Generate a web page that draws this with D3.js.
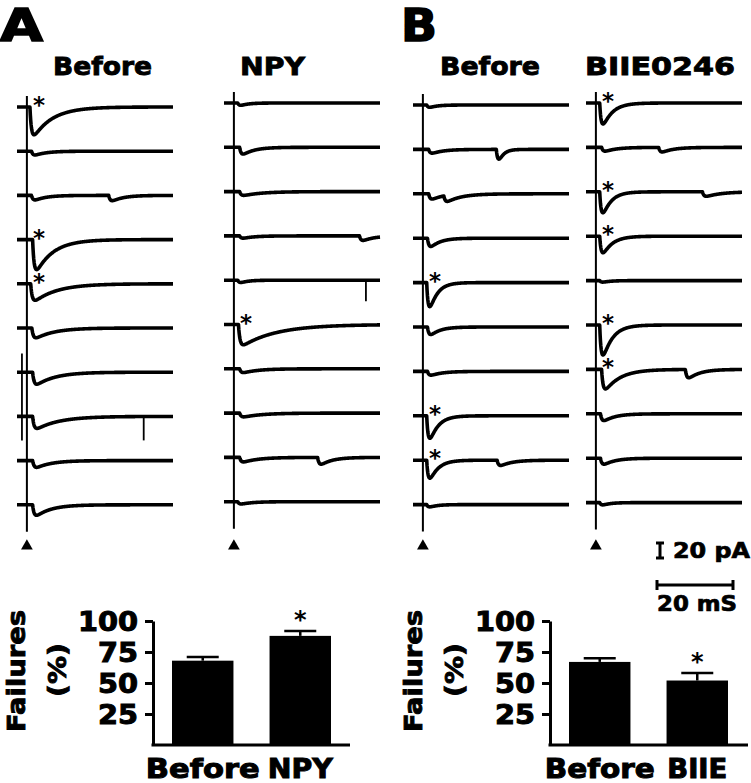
<!DOCTYPE html>
<html><head><meta charset="utf-8">
<script src="https://cdn.jsdelivr.net/npm/d3@7"></script>
<style>body{margin:0;background:#fff}</style>
</head><body>
<svg id="c" width="751" height="783"></svg>
<script>
// ---------------- DATA ----------------
const panelLetters = ["A", "B"];
const columnTitles = ["Before", "NPY", "Before", "BIIE0246"];
// synaptic events per trace: [onset latency ms, amplitude pA (inward), decay ms]
const tracesBeforeA = [
  [[0.8, 37, 5]], [[1.2, 5, 3]], [[1.2, 6, 3], [21.5, 7, 3]], [[1.5, 40, 4.5]], [[1.0, 22, 6]],
  [[1.3, 13, 5]], [[1.5, 16, 5]], [[1.5, 16, 6]], [[1.5, 9, 4]], [[1.5, 14, 4]]
];
const tracesNPY = [
  [[1.0, 3, 2]], [[1.5, 9, 3]], [[1.5, 5, 5]], [[1.5, 3, 3], [33, 6, 3]], [[1.0, 3, 2]],
  [[1.2, 27, 9]], [[1.5, 5, 4]], [[1.5, 5, 5]], [[1.5, 6, 4], [22, 9, 3]], [[1.0, 3, 3]]
];
const tracesBeforeB = [
  [[1.0, 3, 2]], [[1.5, 5, 3], [19.3, 13, 1.2]], [[1.5, 7, 3], [5.5, 8, 4]], [[1.2, 11, 2.5]], [[1.0, 32, 2]],
  [[1.2, 10, 2.5]], [[1.2, 5, 3]], [[1.0, 30, 2.2]], [[1.0, 24, 2.2], [19.5, 7, 3]], [[1.0, 3, 2]]
];
const tracesBIIE = [
  [[1.0, 28, 2.5]], [[1.5, 5, 3], [16.5, 6, 3]], [[1.0, 28, 2.2], [28, 6, 4]], [[1.0, 22, 2.5]], [[1.0, 2, 2]],
  [[1.0, 40, 2.5]], [[1.5, 26, 4], [23.5, 11, 3]], [[1.2, 9, 3]], [[1.2, 8, 3]], [[1.0, 3, 2]]
];
// traces marked with an asterisk (evoked response)
const asteriskBeforeA = [1, 0, 0, 1, 1, 0, 0, 0, 0, 0];
const asteriskNPY     = [0, 0, 0, 0, 0, 1, 0, 0, 0, 0];
const asteriskBeforeB = [0, 0, 0, 0, 1, 0, 0, 1, 1, 0];
const asteriskBIIE    = [1, 0, 1, 1, 0, 1, 1, 0, 0, 0];
// fast spikes: [trace index, time ms, amplitude pA downward]
const spikesBeforeA = [[7, 30.7, 32]];
const spikesNPY = [[4, 34.7, 28]];
const spikesBeforeB = [];
const spikesBIIE = [];
// stimulus artifacts spanning traces: [time ms, from trace, pA above, to trace, pA below]
const artifactsBeforeA = [[-1.3, 6, 25, 7, 32]];
// bar charts: failures (%)
const barCatsA = ["Before", "NPY"];
const barValsA = [68, 88];
const barErrA = [3, 4];
const barSigA = [false, true];
const barCatsB = ["Before", "BIIE"];
const barValsB = [67, 52];
const barErrB = [3, 6];
const barSigB = [false, true];
const barTicks = [25, 50, 75, 100];
const scaleBarPA = 20;
const scaleBarMS = 20;

// ---------------- DRAWING ----------------
const svg = d3.select("#c");
const FONT = "'DejaVu Sans', 'Liberation Sans', sans-serif";

function heavyText(g, txt, x, y, size, width, anchor, rot) {
  const t = g.append("text")
    .attr("x", x).attr("y", y)
    .attr("font-family", FONT).attr("font-weight", "bold")
    .attr("font-size", size)
    .attr("text-anchor", anchor || "start")
    .attr("fill", "#000").attr("stroke", "#000").attr("stroke-width", size * 0.035)
    .text(txt);
  if (width) t.attr("textLength", width).attr("lengthAdjust", "spacingAndGlyphs");
  if (rot) t.attr("transform", `rotate(${rot},${x},${y})`);
  return t;
}

// panel letters and titles
heavyText(svg, panelLetters[0], 0, 41, 44, 43);
heavyText(svg, panelLetters[1], 401, 41, 44, 36);
const titleBoxes = [[53, 99], [240, 65], [440, 100], [585, 150]];
columnTitles.forEach((t, i) => heavyText(svg, t, titleBoxes[i][0], 75, 25, titleBoxes[i][1]));

// trace columns
const timeDomain = [-2.6, 38.4];
const yI = d3.scaleLinear().domain([0, 20]).range([0, 15]);
const columns = [
  { stim: 27, y0: 107, dy: 44.2, traces: tracesBeforeA, marks: asteriskBeforeA, spikes: spikesBeforeA, arts: artifactsBeforeA },
  { stim: 234, y0: 103, dy: 44.3, traces: tracesNPY, marks: asteriskNPY, spikes: spikesNPY, arts: [] },
  { stim: 423, y0: 105, dy: 44.4, traces: tracesBeforeB, marks: asteriskBeforeB, spikes: spikesBeforeB, arts: [] },
  { stim: 596, y0: 103, dy: 44.4, traces: tracesBIIE, marks: asteriskBIIE, spikes: spikesBIIE, arts: [] }
];

function kernel(s, td) {
  if (s <= 0) return 0;
  const tr = 0.4;
  const tp = (tr * td / (td - tr)) * Math.log(td / tr);
  const pk = Math.exp(-tp / td) - Math.exp(-tp / tr);
  return (Math.exp(-s / td) - Math.exp(-s / tr)) / pk;
}
function current(t, ev) {
  return ev.reduce((s, e) => s + e[1] * kernel(t - e[0], e[2]), 0);
}
const ts = d3.range(timeDomain[0], timeDomain[1] + 1e-6, 0.1);

columns.forEach(col => {
  const x = d3.scaleLinear().domain(timeDomain).range([col.stim - 10, col.stim + 146]);
  const g = svg.append("g");
  col.traces.forEach((ev, i) => {
    const base = col.y0 + i * col.dy;
    const line = d3.line().x(t => x(t)).y(t => base + yI(current(t, ev)));
    g.append("path").attr("d", line(ts)).attr("fill", "none")
      .attr("stroke", "#000").attr("stroke-width", 3.6).attr("stroke-linejoin", "round");
    if (col.marks[i]) {
      g.append("text").attr("x", x(3.2)).attr("y", base + 6)
        .attr("font-family", FONT).attr("font-weight", "bold").attr("font-size", 23)
        .attr("text-anchor", "middle").text("*");
    }
  });
  col.spikes.forEach(s => {
    const base = col.y0 + s[0] * col.dy;
    g.append("line").attr("x1", x(s[1])).attr("x2", x(s[1]))
      .attr("y1", base).attr("y2", base + yI(s[2])).attr("stroke", "#000").attr("stroke-width", 1.8);
  });
  col.arts.forEach(a => {
    g.append("line").attr("x1", x(a[0])).attr("x2", x(a[0]))
      .attr("y1", col.y0 + a[1] * col.dy - yI(a[2]))
      .attr("y2", col.y0 + a[3] * col.dy + yI(a[4]))
      .attr("stroke", "#000").attr("stroke-width", 1.8);
  });
  g.append("line").attr("x1", x(0)).attr("x2", x(0))
    .attr("y1", col.y0 - 11).attr("y2", col.y0 + (col.traces.length - 1) * col.dy + 27)
    .attr("stroke", "#000").attr("stroke-width", 2);
  g.append("path").attr("d", d3.symbol(d3.symbolTriangle).size(60)())
    .attr("transform", `translate(${x(0)},${546})`).attr("fill", "#000");
});

// scale bars
{
  const x = d3.scaleLinear().domain([0, scaleBarMS]).range([657, 733]);
  const g = svg.append("g").attr("stroke", "#000").attr("stroke-width", 3);
  const yTop = 543, yBot = yTop + yI(scaleBarPA);
  g.append("line").attr("x1", 660).attr("x2", 660).attr("y1", yTop).attr("y2", yBot);
  g.append("line").attr("x1", 656).attr("x2", 664).attr("y1", yTop).attr("y2", yTop);
  g.append("line").attr("x1", 656).attr("x2", 664).attr("y1", yBot).attr("y2", yBot);
  g.append("line").attr("x1", x(0)).attr("x2", x(scaleBarMS)).attr("y1", 585).attr("y2", 585);
  g.append("line").attr("x1", x(0)).attr("x2", x(0)).attr("y1", 580).attr("y2", 590);
  g.append("line").attr("x1", x(scaleBarMS)).attr("x2", x(scaleBarMS)).attr("y1", 580).attr("y2", 590);
  heavyText(svg, scaleBarPA + " pA", 673, 558, 21, 77);
  heavyText(svg, scaleBarMS + " mS", 657, 611, 21, 80);
}

// bar charts
function barChart(cfg) {
  const g = svg.append("g");
  const y = d3.scaleLinear().domain([0, 100]).range([745, 621]);
  const xb = d3.scaleBand().domain(cfg.cats).range([cfg.b0, cfg.b1]).paddingInner(0.37).paddingOuter(0);
  g.selectAll("rect").data(cfg.vals).join("rect")
    .attr("x", (d, i) => xb(cfg.cats[i])).attr("width", xb.bandwidth())
    .attr("y", d => y(d)).attr("height", d => y(0) - y(d)).attr("fill", "#000");
  cfg.vals.forEach((v, i) => {
    const cx = xb(cfg.cats[i]) + xb.bandwidth() / 2;
    g.append("line").attr("x1", cx).attr("x2", cx).attr("y1", y(v)).attr("y2", y(v + cfg.err[i]))
      .attr("stroke", "#000").attr("stroke-width", 2.5);
    g.append("line").attr("x1", cx - 16).attr("x2", cx + 16).attr("y1", y(v + cfg.err[i])).attr("y2", y(v + cfg.err[i]))
      .attr("stroke", "#000").attr("stroke-width", 2.5);
    if (cfg.sig[i]) {
      g.append("text").attr("x", cx).attr("y", y(v + cfg.err[i]) - 3)
        .attr("font-family", FONT).attr("font-weight", "bold").attr("font-size", 24)
        .attr("text-anchor", "middle").text("*");
    }
  });
  const ax = g.append("g").attr("transform", `translate(${cfg.ax},0)`)
    .call(d3.axisLeft(y).tickValues(barTicks).tickSize(8).tickPadding(7).tickSizeOuter(0));
  ax.select(".domain").attr("stroke-width", 3);
  ax.selectAll(".tick line").attr("stroke-width", 3);
  ax.selectAll(".tick text").attr("font-family", FONT).attr("font-weight", "bold")
    .attr("font-size", 26).attr("stroke", "#000").attr("stroke-width", 1).attr("fill", "#000")
    .attr("dy", "0.36em")
    .attr("textLength", d => d === 100 ? 60 : 40).attr("lengthAdjust", "spacingAndGlyphs");
  const axb = g.append("g").attr("transform", `translate(0,${y(0)})`)
    .call(d3.axisBottom(xb).tickSize(0).tickPadding(15));
  axb.select(".domain").remove();
  axb.append("line").attr("x1", cfg.ax - 1.5).attr("x2", cfg.axEnd).attr("stroke", "#000").attr("stroke-width", 3);
  axb.selectAll(".tick text").attr("font-family", FONT).attr("font-weight", "bold")
    .attr("font-size", 26).attr("stroke", "#000").attr("stroke-width", 1).attr("fill", "#000")
    .attr("dy", "0.71em")
    .attr("textLength", (d, i) => cfg.labelW[i]).attr("lengthAdjust", "spacingAndGlyphs");
  heavyText(svg, "Failures", cfg.ax - 128, 671, 25, 122, "middle", -90);
  heavyText(svg, "(%)", cfg.ax - 87, 670, 25, 54, "middle", -90);
}
barChart({ cats: barCatsA, vals: barValsA, err: barErrA, sig: barSigA, ax: 153, axEnd: 350, b0: 172, b1: 331, labelW: [114, 65] });
barChart({ cats: barCatsB, vals: barValsB, err: barErrB, sig: barSigB, ax: 550, axEnd: 748, b0: 569, b1: 728, labelW: [110, 60] });
</script>
</body></html>
